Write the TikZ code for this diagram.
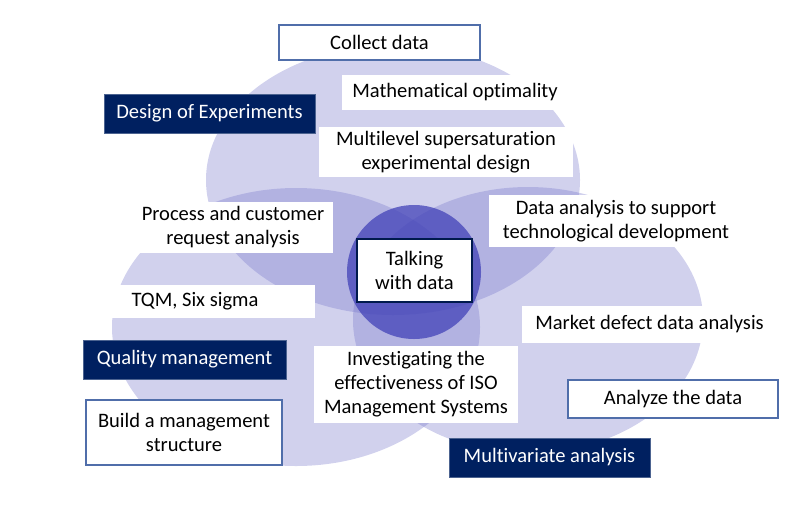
\documentclass[tikz,border=0pt]{standalone}
\usepackage{fontspec}
\setmainfont{Carlito}[Ligatures=NoCommon]
\definecolor{navy}{RGB}{0,32,96}
\definecolor{lav}{RGB}{112,112,200}
\definecolor{hubblue}{RGB}{62,62,182}
\definecolor{boxline}{RGB}{80,110,170}

\begin{document}
\begin{tikzpicture}[x=0.75pt,y=-0.75pt,
        every node/.style={font=\fontsize{15.4}{18}\selectfont, align=center, inner sep=0pt},
        boxsize/.style 2 args={minimum width=#1*0.75pt, minimum height=#2*0.75pt},
        plainbox/.style={fill=white},
        framebox/.style={fill=white, draw=boxline, line width=0.8pt},
        navybox/.style={fill=navy, draw=navy!70!white, line width=0.6pt, text=white},
        hubbox/.style={fill=white, draw=navy!80!black, line width=1.5pt},
        petal/.style={fill=lav, fill opacity=0.32}]
        \useasboundingbox (0,0) rectangle (812,511);

        % three overlapping areas and the hub
        \fill[petal] (393,180) ellipse [x radius=187, y radius=135];
        \fill[petal] (296,327) ellipse [x radius=184, y radius=139];
        \fill[petal] (528,320) ellipse [x radius=175, y radius=133];
        \fill[hubblue, fill opacity=0.72] (414,272) circle [radius=67];

        % design of experiments
        \node[framebox, boxsize={201}{35}] (collect) at (379.5,42.5) {Collect data};
        \node[plainbox, boxsize={226}{35}] (optimal) at (455,92.5) {Mathematical optimality};
        \node[navybox, boxsize={211}{39}] (doe) at (209.5,113.5) {Design of Experiments};
        \node[plainbox, boxsize={254}{50}] (supersat) at (446,152) {Multilevel supersaturation\\experimental design};

        % overlaps
        \node[plainbox, boxsize={200}{51}] (process) at (233,227.5) {Process and customer\\request analysis};
        \node[plainbox, boxsize={254}{52}] (techdev) at (616,221) {Data analysis to support\\technological development};
        \node[plainbox, boxsize={204}{77}] (iso) at (416,384.5) {Investigating the\\effectiveness of ISO\\Management Systems};
        \node[hubbox, boxsize={115}{63}] (talk) at (414.5,270.5) {Talking\\with data};

        % quality management
        \node[plainbox, boxsize={240}{33}] (tqm) at (195,301.5) {TQM, Six sigma};
        \node[navybox, boxsize={203}{39}] (quality) at (184.5,359.5) {Quality management};
        \node[framebox, boxsize={196}{65}] (structure) at (184,432.5) {Build a management\\structure};

        % multivariate analysis
        \node[plainbox, boxsize={255}{37}] (defect) at (649.5,324.5) {Market defect data analysis};
        \node[framebox, boxsize={210}{38}] (analyze) at (673,399) {Analyze the data};
        \node[navybox, boxsize={201}{39}] (multivar) at (549.5,457.5) {Multivariate analysis};
    \end{tikzpicture}
\end{document}
